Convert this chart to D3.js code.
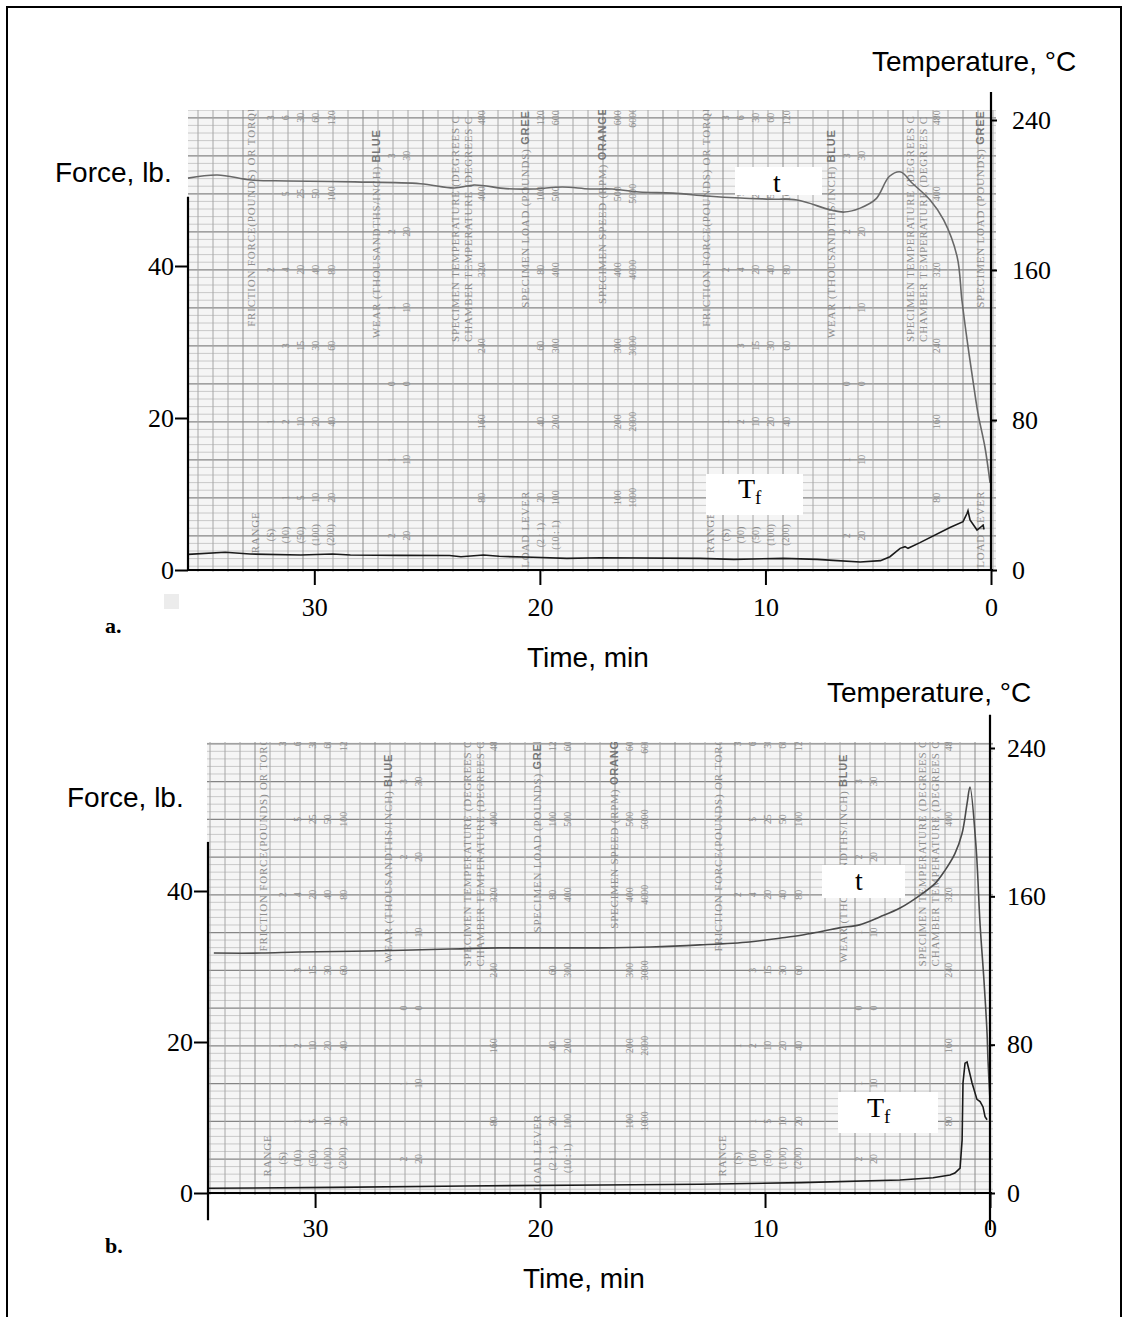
<!DOCTYPE html>
<html>
<head>
<meta charset="utf-8">
<script src="https://cdn.jsdelivr.net/npm/d3@7"></script>
<style>
  body { margin: 0; background: #fff; }
  text { font-family: "Liberation Serif", "Times New Roman", serif; }
  .sans { font-family: "Liberation Sans", Arial, sans-serif; }
</style>
</head>
<body>
<script>
// Two strip-chart recordings (friction force and temperature vs time before failure),
// redrawn on a chart-paper background with axes laid over it.

var timeTicks = [30, 20, 10, 0]
  , forceTicks = [0, 20, 40]
  , tempTicks = [0, 80, 160, 240]

// panel a: temperature t (deg C) and friction force Tf (lb) vs time to failure (min)
var tempTimeA = [35.6, 34.3, 32.8, 31.2, 28.2, 25.3, 23.8, 22.9, 21.5, 20.3, 19.0, 17.8, 16.8, 15.6, 14.1, 12.6, 11.1, 9.8, 8.6, 7.1, 6.5, 5.8, 5.1, 4.5, 4.0, 3.5, 2.7, 2.1, 1.5, 1.29, 1.06, 0.8, 0.58, 0.27, 0.04]
  , tempValA = [209, 210.7, 208, 207.5, 207, 206, 203.7, 205.3, 203.4, 203.2, 204.3, 203.2, 203.2, 201.6, 201, 199.5, 198.4, 197.8, 197.3, 192, 190.9, 193, 197.9, 210, 212.3, 206.4, 197.3, 186.7, 167, 144, 122.7, 101, 83.7, 65.6, 46.4]
  , forceTimeA = [35.6, 33.95, 32.85, 30.6, 29.2, 28.4, 26.2, 24.0, 23.5, 22.5, 21.8, 20.3, 18.8, 17.3, 12.9, 11.4, 9.2, 7.7, 7.0, 5.8, 4.9, 4.48, 4.03, 3.81, 3.68, 3.15, 1.82, 1.24, 1.06, 1.02, 0.93, 0.62, 0.35, 0.31]
  , forceValA = [2.06, 2.33, 2.1, 1.97, 2.1, 1.97, 1.93, 1.9, 1.75, 1.97, 1.8, 1.67, 1.53, 1.62, 1.53, 1.4, 1.53, 1.4, 1.27, 1.05, 1.23, 1.75, 2.85, 3.07, 2.85, 3.6, 5.6, 6.36, 7.46, 7.8, 6.6, 5.26, 5.9, 5.35]

// panel b
var tempTimeB = [34.5, 32.4, 30.7, 27.6, 24.0, 21.8, 17.3, 15.1, 12.9, 10.7, 9.3, 8.4, 7.6, 6.7, 5.8, 4.9, 4.0, 3.1, 2.44, 2.0, 1.56, 1.24, 1.02, 0.89, 0.62, 0.44, 0.27, 0.13, 0.09, 0]
  , tempValB = [129.4, 129.4, 130, 130.5, 131.6, 132.2, 132.2, 132.7, 133.8, 135.4, 137.5, 139, 140.8, 143, 144.6, 148.9, 153.7, 160.7, 167, 174, 183, 194, 210, 219, 186.6, 144.5, 115, 86, 71.7, 50]
  , forceTimeB = [34.76, 29.2, 23.3, 17.3, 12.9, 8.4, 4.0, 2.53, 1.78, 1.56, 1.33, 1.24, 1.2, 1.11, 1.02, 0.8, 0.58, 0.44, 0.31, 0.22, 0.13]
  , forceValB = [0.62, 0.75, 0.93, 1.06, 1.15, 1.37, 1.72, 2.03, 2.38, 2.65, 3.3, 7.0, 14.6, 17.2, 17.35, 14.6, 12.4, 12.1, 11.4, 10.1, 9.7]

// printed scales of the recorder paper (one repeat of the pattern)
var paperHeads = ['FRICTION FORCE(POUNDS) OR TORQUE', 'WEAR (THOUSANDTHS/INCH) ', 'SPECIMEN  TEMPERATURE  (DEGREES C', 'CHAMBER  TEMPERATURE  (DEGREES C', 'SPECIMEN  LOAD  (POUNDS) ', 'SPECIMEN  SPEED  (RPM)   ']
  , paperHeadColors = ['', 'BLUE', '', '', 'GREEN', 'ORANGE']
  , frictionRows = [['3', '6', '30', '60', '120'], ['', '5', '25', '50', '100'], ['2', '4', '20', '40', '80'], ['', '3', '15', '30', '60'], ['1', '2', '10', '20', '40'], ['', '1', '5', '10', '20']]
  , wearRows = [['3', '30'], ['2', '20'], ['1', '10'], ['0', '0'], ['1', '10'], ['2', '20']]
  , tempRows = [['480'], ['400'], ['320'], ['240'], ['160'], ['80']]
  , loadRows = [['120', '600'], ['100', '500'], ['80', '400'], ['60', '300'], ['40', '200'], ['20', '100']]
  , speedRows = [['600', '6000'], ['500', '5000'], ['400', '4000'], ['300', '3000'], ['200', '2000'], ['100', '1000']]
  , rangeLabels = ['(S)', '(10)', '(50)', '(100)', '(200)']
  , leverLabels = ['(2 : 1)', '(10 : 1)']

// layout of the two panels (pixels)
var panels = [
  { id: 'a', letter: 'a.', timeMax: 35.6, xr: [188, 991], fr: [570, 266], tr: [570, 120],
    paper: [188, 110, 996, 572], col0: 251, shift: -0.5,
    leftAxis: [49.1, 0], rightAxis: [255, 0], tick: 13, rtick: 6, rpad: 15, xpad: 13,
    forceLabel: [55, 182], tempLabel: [872, 71], timeLabel: [527, 667], letterPos: [105, 633],
    tBox: [735, 167, 87, 28], tText: [777, 192], tfBox: [706, 474, 97, 41], tfText: [738, 498],
    tempColor: '#686868', forceTime: forceTimeA, forceVal: forceValA, tempTime: tempTimeA, tempVal: tempValA },
  { id: 'b', letter: 'b.', timeMax: 34.76, xr: [208, 990], fr: [1193, 891], tr: [1193, 748],
    paper: [207, 742, 993, 1195], col0: 263, shift: -0.5,
    leftAxis: [46.5, -3.6], rightAxis: [258, -20], tick: 14, rtick: 5, rpad: 12, xpad: 11,
    forceLabel: [67, 807], tempLabel: [827, 702], timeLabel: [523, 1288], letterPos: [105, 1253],
    tBox: [822, 865, 83, 33], tText: [859, 890], tfBox: [838, 1092, 100, 41], tfText: [867, 1117],
    tempColor: '#4a4a4a', forceTime: forceTimeB, forceVal: forceValB, tempTime: tempTimeB, tempVal: tempValB }
]

var svg = d3.select('body').append('svg')
  .attr('width', 1126)
  .attr('height', 1317)

svg.append('rect')
  .attr('x', 7).attr('y', 7).attr('width', 1114).attr('height', 1340)
  .attr('fill', 'none').attr('stroke', '#000').attr('stroke-width', 2)

var drawPaper = function(g, p, yF) {
  var px = p.paper
    , clipId = 'clip-' + p.id
  g.append('clipPath').attr('id', clipId).append('rect')
    .attr('x', px[0]).attr('y', px[1]).attr('width', px[2] - px[0]).attr('height', px[3] - px[1])
  var paper = g.append('g').attr('clip-path', 'url(#' + clipId + ')')

  paper.append('rect')
    .attr('x', px[0]).attr('y', px[1]).attr('width', px[2] - px[0]).attr('height', px[3] - px[1])
    .attr('fill', '#f5f5f5')

  // horizontal rulings every pound, heavier every 5
  paper.selectAll('line.h').data(d3.range(-2, 64)).enter().append('line')
    .attr('x1', px[0]).attr('x2', px[2])
    .attr('y1', function(d) { return yF(d + p.shift) })
    .attr('y2', function(d) { return yF(d + p.shift) })
    .attr('stroke', function(d) { return d % 5 === 0 ? '#858585' : '#c4c4c4' })
    .attr('stroke-width', function(d) { return d % 5 === 0 ? 1.3 : 0.9 })

  // vertical rulings
  var cols = d3.range(p.col0 - 8 - 15 * 4, px[2], 15)
  paper.selectAll('line.v').data(cols).enter().append('line')
    .attr('x1', function(d) { return d }).attr('x2', function(d) { return d })
    .attr('y1', px[1]).attr('y2', px[3])
    .attr('stroke', function(d, i) { return i % 4 === 0 ? '#8a8a8a' : '#a6a6a6' })
    .attr('stroke-width', 1)

  var labels = paper.append('g').attr('fill', '#8e8e8e')
    , inside = function(x) { return x > px[0] + 4 && x < px[2] - 4 }
    , rot = function(sel, x, y) { return sel.attr('transform', 'translate(' + x + ',' + y + ') rotate(-90)') }

  var number = function(x, y, s) {
    if (!s || !inside(x)) return
    rot(labels.append('text'), x, y)
      .attr('text-anchor', 'middle').attr('dy', '0.35em')
      .attr('font-size', 10).text(s)
  }
  var numbers = function(x0, offsets, rows, levels) {
    rows.forEach(function(row, r) {
      row.forEach(function(s, c) { number(x0 + offsets[c], yF(levels[r] + p.shift), s) })
    })
  }
  // text reading upward from its foot, cut by the sheet edge like the scan
  var head = function(x, yFoot, main, bold) {
    if (!inside(x)) return
    var t = rot(labels.append('text'), x, yFoot)
      .attr('dy', '0.35em').attr('font-size', 11).attr('letter-spacing', 0.8)
    t.append('tspan').text(main)
    if (bold)
      t.append('tspan').attr('font-weight', 'bold').attr('font-family', 'Liberation Sans')
        .attr('fill', '#777').text(bold)
  }
  var headOffsets = [0, 125, 204, 217, 274, 351]
    , headFeet = [32, 30.5, 30, 30, 34.5, 35]
    , tens = [60, 50, 40, 30, 20, 10]
    , fives = [55, 45, 35, 25, 15, 5]

  ;[p.col0 - 455, p.col0, p.col0 + 455].forEach(function(x0) {
    paperHeads.forEach(function(h, i) {
      head(x0 + headOffsets[i], yF(headFeet[i]), h, paperHeadColors[i])
    })
    numbers(x0, [19, 34, 49, 64, 80], frictionRows, tens)
    numbers(x0, [140, 155], wearRows, fives)
    numbers(x0, [230], tempRows, tens)
    numbers(x0, [289, 304], loadRows, tens)
    numbers(x0, [366, 381], speedRows, tens)
    head(x0 + 4, yF(2.2), 'RANGE')
    rangeLabels.forEach(function(s, i) { number(x0 + 19 + 15 * i, yF(4.6), s) })
    head(x0 + 274, yF(0.3), 'LOAD  LEVER')
    leverLabels.forEach(function(s, i) { number(x0 + 289 + 15 * i, yF(4.6), s) })
  })
}

var styleAxis = function(g, size) {
  g.select('.domain').remove()
  g.selectAll('line').attr('stroke', '#000').attr('stroke-width', 2)
  g.selectAll('text').attr('font-family', '"Liberation Serif", serif')
    .attr('font-size', size).attr('fill', '#000')
}

panels.forEach(function(p) {
  var g = svg.append('g')
    , x = d3.scaleLinear().domain([p.timeMax, 0]).range(p.xr)
    , yF = d3.scaleLinear().domain([0, 40]).range(p.fr)
    , yT = d3.scaleLinear().domain([0, 240]).range(p.tr)

  drawPaper(g, p, yF)

  // white patches holding the curve labels
  ;[p.tBox, p.tfBox].forEach(function(b) {
    g.append('rect').attr('x', b[0]).attr('y', b[1]).attr('width', b[2]).attr('height', b[3]).attr('fill', '#fff')
  })

  var tempLine = d3.line()
    .x(function(d) { return x(d[0]) }).y(function(d) { return yT(d[1]) })
    .curve(d3.curveCatmullRom.alpha(0.5))
  var forceLine = d3.line()
    .x(function(d) { return x(d[0]) }).y(function(d) { return yF(d[1]) })

  g.append('path').datum(d3.zip(p.tempTime, p.tempVal))
    .attr('d', tempLine).attr('fill', 'none')
    .attr('stroke', p.tempColor).attr('stroke-width', 1.6)
  g.append('path').datum(d3.zip(p.forceTime, p.forceVal))
    .attr('d', forceLine).attr('fill', 'none')
    .attr('stroke', '#1a1a1a').attr('stroke-width', 1.6)

  // axes
  var x0 = p.xr[0], x1 = p.xr[1], yBase = p.fr[0]
  g.append('line').attr('x1', x0).attr('x2', x1 + 2).attr('y1', yBase).attr('y2', yBase)
    .attr('stroke', '#000').attr('stroke-width', 2.2)
  g.append('line').attr('x1', x0).attr('x2', x0)
    .attr('y1', yF(p.leftAxis[0])).attr('y2', yF(p.leftAxis[1]))
    .attr('stroke', '#000').attr('stroke-width', 2.2)
  g.append('line').attr('x1', x1).attr('x2', x1)
    .attr('y1', yT(p.rightAxis[0])).attr('y2', yT(p.rightAxis[1]))
    .attr('stroke', '#000').attr('stroke-width', 2.2)

  g.append('g').attr('transform', 'translate(' + x0 + ',0)')
    .call(d3.axisLeft(yF).tickValues(forceTicks).tickSize(p.tick).tickPadding(1))
    .call(styleAxis, 26)
  g.append('g').attr('transform', 'translate(' + x1 + ',0)')
    .call(d3.axisRight(yT).tickValues(tempTicks).tickSize(p.rtick).tickPadding(p.rpad))
    .call(styleAxis, 26)
  g.append('g').attr('transform', 'translate(0,' + yBase + ')')
    .call(d3.axisBottom(x).tickValues(timeTicks).tickSize(15).tickPadding(p.xpad))
    .call(styleAxis, 26)

  // titles
  g.append('text').attr('class', 'sans').attr('x', p.forceLabel[0]).attr('y', p.forceLabel[1])
    .attr('font-size', 28).text('Force, lb.')
  g.append('text').attr('class', 'sans').attr('x', p.tempLabel[0]).attr('y', p.tempLabel[1])
    .attr('font-size', 28).text('Temperature, \u00B0C')
  g.append('text').attr('class', 'sans').attr('x', p.timeLabel[0]).attr('y', p.timeLabel[1])
    .attr('font-size', 28).text('Time, min')
  g.append('text').attr('x', p.letterPos[0]).attr('y', p.letterPos[1])
    .attr('font-size', 22).attr('font-weight', 'bold').text(p.letter)

  g.append('text').attr('x', p.tText[0]).attr('y', p.tText[1]).attr('text-anchor', 'middle')
    .attr('font-size', 28).text('t')
  var tf = g.append('text').attr('x', p.tfText[0]).attr('y', p.tfText[1]).attr('font-size', 28)
  tf.append('tspan').text('T')
  tf.append('tspan').attr('font-size', 19).attr('dy', 6).text('f')
})

// small scan mark left of panel a's time axis
svg.append('rect').attr('x', 164).attr('y', 594).attr('width', 15).attr('height', 15).attr('fill', '#ececec')
</script>
</body>
</html>
